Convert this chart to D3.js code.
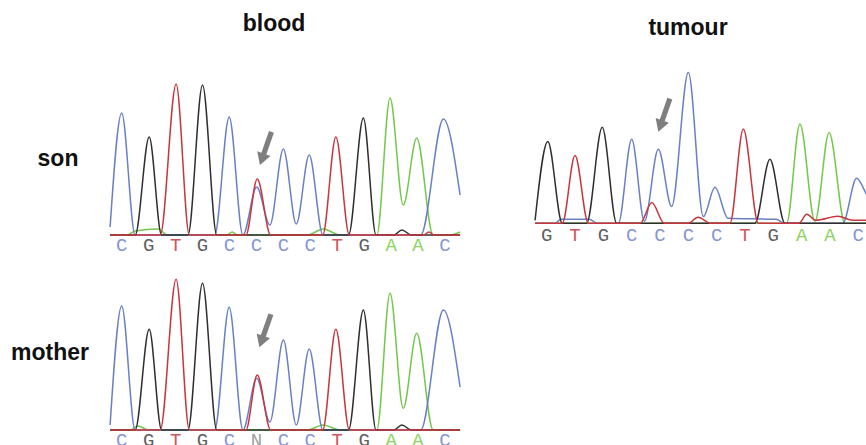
<!DOCTYPE html>
<html>
<head>
<meta charset="utf-8">
<script src="https://cdn.jsdelivr.net/npm/d3@7"></script>
<style>
  body { margin: 0; background: #fff; }
  svg { display: block; }
  .title { font-family: "Liberation Sans", Arial, sans-serif; font-weight: bold; font-size: 23px; fill: #111; }
  .base { font-family: "Courier New", "Liberation Mono", monospace; font-size: 19px; }
</style>
</head>
<body>
<svg id="chart" width="866" height="445"></svg>
<script>
// Base calls read under each trace
var sonBases = ["C","G","T","G","C","C","C","C","T","G","A","A","C"];
var motherBases = ["C","G","T","G","C","N","C","C","T","G","A","A","C"];
var tumourBases = ["G","T","G","C","C","C","C","T","G","A","A","C"];

// Trace key points per channel: [base position, signal height]
var sonC = [[-0.43,8],[0,122],[0.5,0],[3.45,0],[3.99,118],[4.5,0],[5.01,48],[5.5,10],[6.0,86],[6.48,11],[6.96,80],[7.47,0],[11.1,0],[11.94,116],[12.56,40]];
var sonG = [[-0.43,0],[0.5,0],[1.02,98],[1.48,0],[2.46,0],[3.0,150],[3.53,0],[8.42,0],[8.97,117],[9.44,0],[10.1,0],[10.4,5],[10.75,0],[12.56,0]];
var sonT = [[-0.43,0],[1.43,0],[2.02,151],[2.51,0],[4.61,0],[5.03,56],[5.53,0],[7.46,0],[7.95,98],[8.45,0],[11.2,0],[11.4,3],[11.6,0],[12.56,0]];
var sonA = [[-0.43,0],[0.2,0],[0.5,4],[1.35,6],[1.7,0],[3.9,0],[4.1,3],[4.3,0],[6.9,0],[7.48,6],[8.1,0],[9.47,0],[9.96,137],[10.45,30],[10.95,97],[11.56,0],[12.2,0],[12.56,3]];

var motherC = [[-0.43,5],[0,124],[0.5,0],[3.45,0],[3.99,122.7],[4.5,0],[5.01,51.7],[5.5,8],[6.0,90],[6.48,5],[6.96,81],[7.47,0],[11.1,0],[11.94,120],[12.56,43]];
var motherG = [[-0.43,0],[0.5,0],[1.02,100.7],[1.48,0],[2.46,0],[3.0,146.7],[3.53,0],[8.42,0],[8.97,120],[9.44,0],[10.1,0],[10.4,5],[10.75,0],[12.56,0]];
var motherT = [[-0.43,0],[1.43,0],[2.02,150.7],[2.51,0],[4.61,0],[5.03,55],[5.53,0],[7.46,0],[7.95,100.7],[8.45,0],[12.56,0]];
var motherA = [[-0.43,0],[0.3,0],[0.6,4],[1.0,0],[6.9,0],[7.48,5],[8.1,0],[9.47,0],[9.96,136.7],[10.45,21.7],[10.95,96.7],[11.56,0],[12.56,0]];

var tumourC = [[-0.41,0],[0.3,0],[0.5,4],[1.5,4],[1.8,0],[2.53,0],[3.0,84],[3.45,2],[3.94,74],[4.41,16.7],[5.0,150.7],[5.53,6.7],[5.94,36],[6.4,5],[8.1,4],[8.4,0],[10.45,0],[10.94,45],[11.27,30],[11.5,18]];
var tumourG = [[-0.41,3],[0.04,81.7],[0.55,0],[1.41,0],[1.96,96],[2.47,0],[7.35,0],[7.88,64],[8.41,0],[11.5,0]];
var tumourT = [[-0.41,0],[0.55,0],[1.0,67.7],[1.47,0],[3.3,0],[3.71,20.7],[4.15,0],[5.0,0],[5.34,6],[5.8,0],[6.47,0],[6.94,94.3],[7.47,0],[8.9,0],[9.18,9],[9.5,3],[10.28,7],[10.8,3],[11.5,3]];
var tumourA = [[-0.41,0],[8.47,0],[8.94,99.3],[9.47,2],[9.97,90.7],[10.53,0],[11.5,0]];

// Arrow tips: [base position, signal height]
var sonArrow = [5.13, 70];
var motherArrow = [5.11, 82.7];
var tumourArrow = [3.94, 91.6];

var traceColor = { A: "#72c84a", C: "#6a80c4", G: "#2f2f2f", T: "#c8353d" };
var baseColor = { A: "#8ad45e", C: "#8596d6", G: "#606060", T: "#d2555a", N: "#a0a0a0" };

var svg = d3.select("#chart");

var panels = [
  { bases: sonBases, ch: { A: sonA, C: sonC, G: sonG, T: sonT }, arrow: sonArrow,
    x0: 121.7, x1: 445, base: 235, labelY: 250.5 },
  { bases: motherBases, ch: { A: motherA, C: motherC, G: motherG, T: motherT }, arrow: motherArrow,
    x0: 121.7, x1: 445, base: 430, labelY: 445.5 },
  { bases: tumourBases, ch: { A: tumourA, C: tumourC, G: tumourG, T: tumourT }, arrow: tumourArrow,
    x0: 546.7, x1: 858.3, base: 223.3, labelY: 240.8 }
];

panels.forEach(function (p) {
  var x = d3.scaleLinear().domain([0, p.bases.length - 1]).range([p.x0, p.x1]);
  var y = d3.scaleLinear().domain([0, 160]).range([p.base, p.base - 160]);
  var line = d3.line()
    .x(function (d) { return x(d[0]); })
    .y(function (d) { return y(d[1]); })
    .curve(d3.curveMonotoneX);

  var g = svg.append("g");
  ["A", "C", "G", "T"].forEach(function (k) {
    g.append("path")
      .attr("d", line(p.ch[k]))
      .attr("fill", "none")
      .attr("stroke", traceColor[k])
      .attr("stroke-width", 1.5)
      .attr("stroke-linejoin", "round");
  });

  g.selectAll("text.base").data(p.bases).enter().append("text")
    .attr("class", "base")
    .attr("x", function (d, i) { return x(i); })
    .attr("y", p.labelY)
    .attr("text-anchor", "middle")
    .attr("fill", function (d) { return baseColor[d]; })
    .text(function (d) { return d; });

  // grey arrow pointing down-left at the variant peak
  var tx = x(p.arrow[0]), ty = y(p.arrow[1]);
  var ang = Math.atan2(-33.5, 11.7) * 180 / Math.PI + 90;
  g.append("path")
    .attr("d", "M0,0 L-7,-12 L-2.6,-12 L-2.6,-35 L2.6,-35 L2.6,-12 L7,-12 Z")
    .attr("fill", "#7f7f7f")
    .attr("transform", "translate(" + tx + "," + ty + ") rotate(" + (ang) + ")");
});

svg.append("text").attr("class", "title").attr("x", 274).attr("y", 31).attr("text-anchor", "middle").text("blood");
svg.append("text").attr("class", "title").attr("x", 688).attr("y", 35).attr("text-anchor", "middle").text("tumour");
svg.append("text").attr("class", "title").attr("x", 58).attr("y", 166).attr("text-anchor", "middle").text("son");
svg.append("text").attr("class", "title").attr("x", 50).attr("y", 360).attr("text-anchor", "middle").text("mother");
</script>
</body>
</html>
